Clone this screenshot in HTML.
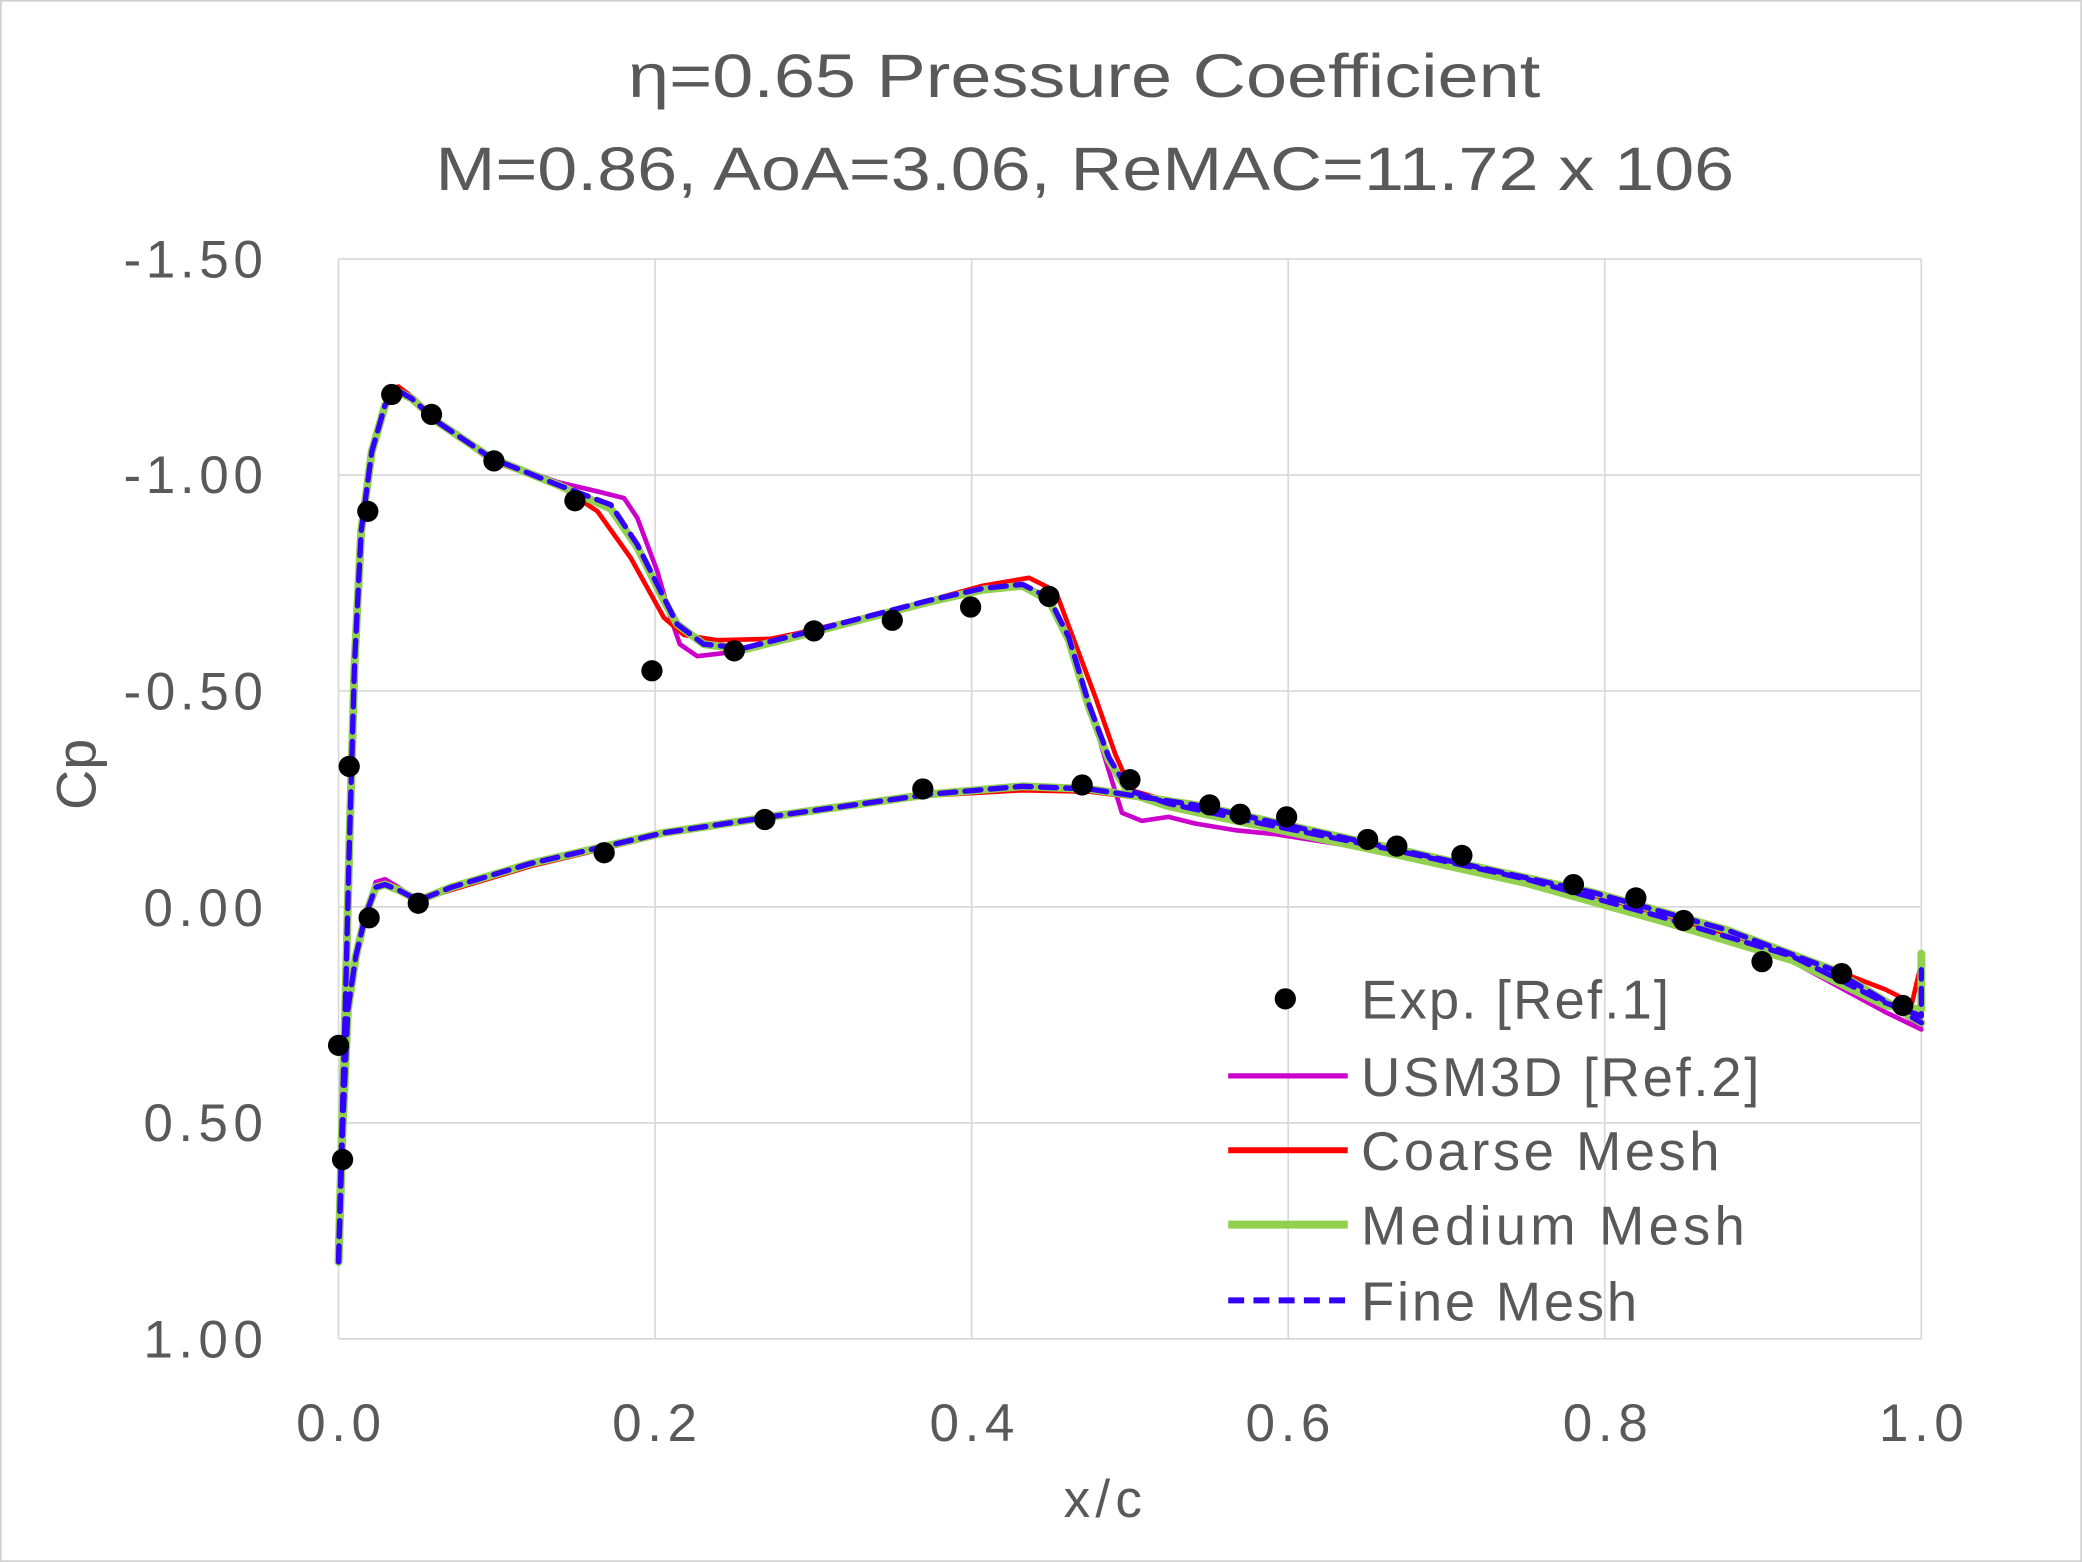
<!DOCTYPE html>
<html><head><meta charset="utf-8"><style>
html,body{margin:0;padding:0;background:#fff}
svg{display:block}
text{font-family:"Liberation Sans",sans-serif;fill:#595959}
</style></head><body>
<svg width="2082" height="1562" viewBox="0 0 1568 1176" preserveAspectRatio="none">
<rect x="0.5" y="0.5" width="1567" height="1175" fill="#fff" stroke="#d0d0d0" stroke-width="1.5"/>
<g stroke="#d9d9d9" stroke-width="1.3" fill="none">
<line x1="255" y1="195" x2="1447" y2="195"/>
<line x1="255" y1="357.6" x2="1447" y2="357.6"/>
<line x1="255" y1="520.2" x2="1447" y2="520.2"/>
<line x1="255" y1="682.8" x2="1447" y2="682.8"/>
<line x1="255" y1="845.4" x2="1447" y2="845.4"/>
<line x1="255" y1="1008" x2="1447" y2="1008"/>
<line x1="255" y1="195" x2="255" y2="1008"/>
<line x1="493.4" y1="195" x2="493.4" y2="1008"/>
<line x1="731.8" y1="195" x2="731.8" y2="1008"/>
<line x1="970.2" y1="195" x2="970.2" y2="1008"/>
<line x1="1208.6" y1="195" x2="1208.6" y2="1008"/>
<line x1="1447" y1="195" x2="1447" y2="1008"/>
</g>
<text x="473" y="73" font-size="46" textLength="687" lengthAdjust="spacingAndGlyphs">η=0.65 Pressure Coefficient</text>
<text x="328" y="143" font-size="46" textLength="978" lengthAdjust="spacingAndGlyphs">M=0.86, AoA=3.06, ReMAC=11.72 x 106</text>
<g font-size="40" lengthAdjust="spacingAndGlyphs">
<text x="93" y="209" textLength="105">-1.50</text>
<text x="93" y="371" textLength="105">-1.00</text>
<text x="93" y="534" textLength="105">-0.50</text>
<text x="108" y="697" textLength="90">0.00</text>
<text x="108" y="859" textLength="90">0.50</text>
<text x="108" y="1022" textLength="90">1.00</text>
<text x="223" y="1085" textLength="64">0.0</text>
<text x="461" y="1085" textLength="64">0.2</text>
<text x="700" y="1085" textLength="64">0.4</text>
<text x="938" y="1085" textLength="64">0.6</text>
<text x="1177" y="1085" textLength="64">0.8</text>
<text x="1415" y="1085" textLength="64">1.0</text>
<text x="801" y="1142" textLength="59">x/c</text>
</g>
<text x="72" y="583" font-size="42" text-anchor="middle" transform="rotate(-90 72 583)">Cp</text>
<g fill="none" stroke-linejoin="round" stroke-linecap="round">
<path stroke="#cc00cc" stroke-width="3.5" d="M255,950 L257,870 260,760 263,640 267,500 272,400 280,340 290,305 298,292 310,300 330,318 370,345 420,363 450,370 470,375 480,390 495,430 505,465 512,485 525,494 560,490 600,478 650,465 700,452 740,443 770,440 790,450 805,480 820,530 835,580 845,612 860,618 880,615 900,620 930,625 960,628 1050,642 1150,664 1250,692 1350,724 1420,762 1447,775"/>
<path stroke="#cc00cc" stroke-width="3.5" d="M255,950 L258,850 262,760 268,720 275,690 283,664 290,662 300,668 315,678 340,668 400,650 500,627 600,612 700,598 770,593 820,595 900,606 1000,628 1100,650 1200,672 1300,700 1380,730 1447,772"/>
<path stroke="#ff0000" stroke-width="3.5" d="M255,950 L257,870 260,760 263,640 267,500 272,400 280,340 290,303 300,291 312,300 330,318 370,347 420,365 450,385 475,420 500,465 515,478 540,482 580,481 600,477 650,465 700,452 740,441 775,435 795,445 810,485 825,525 840,568 852,595 880,603 950,618 1050,638 1150,660 1250,688 1350,718 1420,745 1440,755 1447,725"/>
<path stroke="#ff0000" stroke-width="3.5" d="M255,950 L258,850 262,760 268,720 275,690 283,668 290,666 300,670 315,678 340,670 400,652 500,628 600,613 700,599 770,595 820,596 900,606 1000,628 1100,650 1200,672 1300,700 1380,730 1447,768"/>
<path stroke="#92d050" stroke-width="6" d="M255,950 L257,870 260,760 263,640 267,500 272,400 280,340 290,305 298,294 310,300 330,318 370,345 420,365 460,383 480,412 500,452 510,470 530,485 560,489 600,479 650,466 700,453 740,444 770,441 790,452 805,482 820,532 835,572 850,597 880,607 950,622 1050,643 1150,665 1250,693 1350,723 1420,757 1447,760 1447,718"/>
<path stroke="#92d050" stroke-width="6" d="M255,950 L258,850 262,760 268,720 275,690 283,668 290,666 300,670 315,678 340,668 400,650 500,627 600,612 700,598 770,592 820,594 900,606 1000,628 1100,650 1200,672 1300,700 1380,730 1447,770"/>
<path stroke="#3300ff" stroke-width="4" stroke-dasharray="12,7" d="M255,950 L257,870 260,760 263,640 267,500 272,400 280,340 290,305 298,293 310,300 330,318 370,345 420,365 460,380 480,410 500,450 510,470 530,485 560,488 600,478 650,465 700,452 740,443 770,440 790,450 805,480 820,530 835,570 850,595 880,605 950,620 1050,640 1150,662 1250,690 1350,720 1420,755 1447,765 1447,730"/>
<path stroke="#3300ff" stroke-width="4" stroke-dasharray="12,7" d="M255,950 L258,850 262,760 268,720 275,690 283,668 290,666 300,670 315,678 340,668 400,650 500,627 600,612 700,598 770,592 820,594 900,606 1000,628 1100,650 1200,672 1300,700 1380,730 1447,770"/>
</g>
<g fill="#000">
<circle cx="295" cy="297" r="8"/><circle cx="325" cy="312" r="8"/><circle cx="372" cy="347" r="8"/><circle cx="433" cy="377" r="8"/><circle cx="277" cy="385" r="8"/><circle cx="263" cy="577" r="8"/><circle cx="255" cy="787" r="8"/><circle cx="258" cy="873" r="8"/><circle cx="278" cy="691" r="8"/><circle cx="315" cy="680" r="8"/><circle cx="455" cy="642" r="8"/><circle cx="491" cy="505" r="8"/><circle cx="553" cy="490" r="8"/><circle cx="576" cy="617" r="8"/><circle cx="613" cy="475" r="8"/><circle cx="672" cy="467" r="8"/><circle cx="695" cy="594" r="8"/><circle cx="731" cy="457" r="8"/><circle cx="790" cy="449" r="8"/><circle cx="815" cy="591" r="8"/><circle cx="851" cy="587" r="8"/><circle cx="911" cy="606" r="8"/><circle cx="934" cy="613" r="8"/><circle cx="969" cy="615" r="8"/><circle cx="1030" cy="632" r="8"/><circle cx="1052" cy="637" r="8"/><circle cx="1101" cy="644" r="8"/><circle cx="1185" cy="666" r="8"/><circle cx="1232" cy="676" r="8"/><circle cx="1268" cy="693" r="8"/><circle cx="1327" cy="724" r="8"/><circle cx="1387" cy="733" r="8"/><circle cx="1433" cy="757" r="8"/>
<circle cx="968" cy="752" r="8"/>
</g>
<g stroke-linecap="butt">
<line x1="925" y1="810" x2="1015" y2="810" stroke="#cc00cc" stroke-width="4"/>
<line x1="925" y1="866" x2="1015" y2="866" stroke="#ff0000" stroke-width="4.5"/>
<line x1="925" y1="922" x2="1015" y2="922" stroke="#92d050" stroke-width="6"/>
<line x1="925" y1="979" x2="1015" y2="979" stroke="#3300ff" stroke-width="4.5" stroke-dasharray="12,7"/>
</g>
<g font-size="41" lengthAdjust="spacingAndGlyphs">
<text x="1025" y="767" textLength="232">Exp. [Ref.1]</text>
<text x="1025" y="825" textLength="300">USM3D [Ref.2]</text>
<text x="1025" y="881" textLength="270">Coarse Mesh</text>
<text x="1025" y="937" textLength="289">Medium Mesh</text>
<text x="1025" y="994" textLength="208">Fine Mesh</text>
</g>
</svg>
</body></html>
